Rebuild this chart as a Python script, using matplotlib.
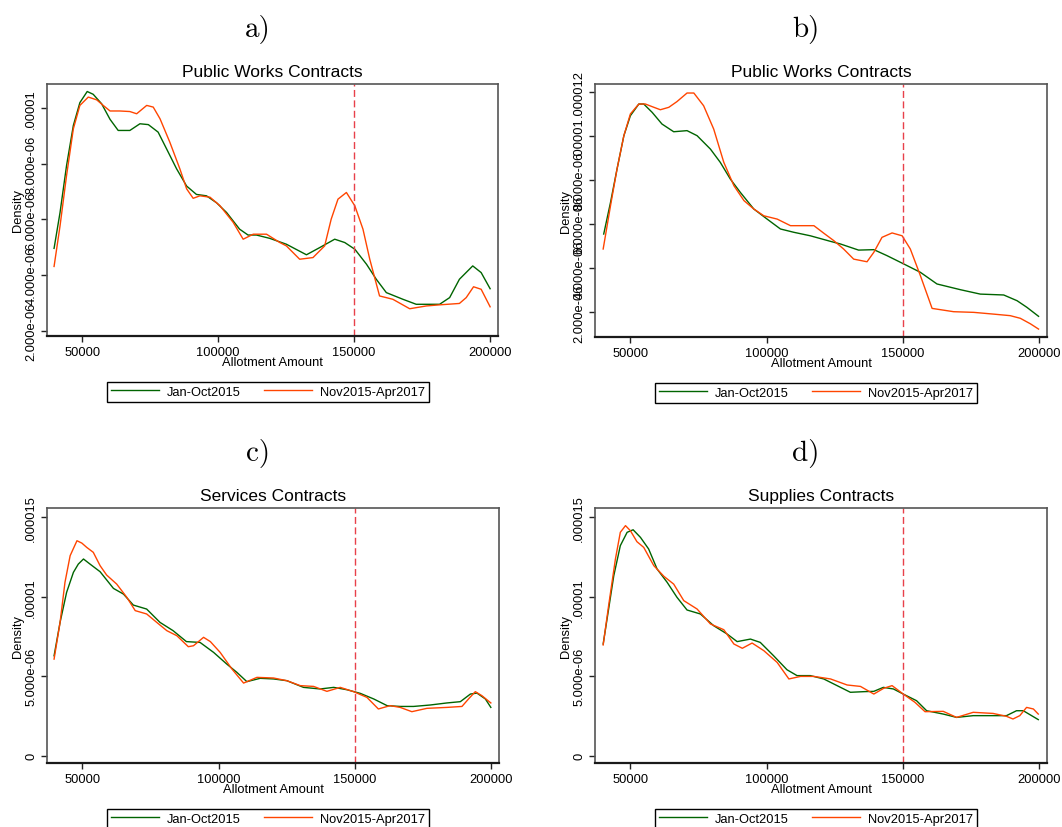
import numpy as np
import matplotlib
matplotlib.use('Agg')
import matplotlib.pyplot as plt

# density values are in units of 1e-6
# a) Public Works Contracts (first)
a_green_x = [39600, 41800, 44200, 46700, 49100, 51800, 54000, 57100, 60200, 63200, 67500, 71200,
             74300, 77900, 81000, 84700, 88400, 92000, 95700, 99400, 103100, 107900, 111000, 114100,
             119000, 125100, 132500, 137400, 142900, 146600, 150300, 154600, 158200, 161900, 168000,
             172900, 181500, 185200, 188800, 193700, 196800, 200100]
a_green_y = [4.96, 6.25, 7.94, 9.38, 10.2, 10.6, 10.5, 10.16, 9.6, 9.2, 9.2, 9.44,
             9.41, 9.14, 8.54, 7.82, 7.2, 6.9, 6.85, 6.6, 6.25, 5.65, 5.44, 5.44,
             5.32, 5.11, 4.73, 4.99, 5.29, 5.17, 4.93, 4.39, 3.85, 3.37, 3.13,
             2.95, 2.95, 3.19, 3.85, 4.33, 4.09, 3.51]
a_orange_x = [39600, 41800, 44200, 46700, 49100, 52200, 55300, 57700, 60200, 63800, 67500, 70000,
              73700, 76100, 78600, 82200, 85900, 88400, 90800, 93300, 97000, 100600, 105500, 109200,
              112900, 117800, 122700, 125100, 130000, 134900, 139200, 141600, 144100, 147200, 150300,
              153300, 155800, 159400, 164300, 170500, 176600, 181500, 188800, 191300, 194000, 196800,
              200100]
a_orange_y = [4.31, 5.77, 7.58, 9.26, 10.1, 10.4, 10.3, 10.1, 9.9, 9.9, 9.88, 9.8,
              10.1, 10.04, 9.62, 8.78, 7.82, 7.1, 6.76, 6.85, 6.8, 6.5, 5.9, 5.29,
              5.47, 5.47, 5.17, 5.05, 4.57, 4.63, 5.05, 6.01, 6.73, 6.97, 6.49,
              5.65, 4.57, 3.25, 3.13, 2.79, 2.89, 2.93, 2.98, 3.19, 3.58, 3.49,
              2.86]

# b) Public Works Contracts (second)
b_green_x = [40200, 42700, 45100, 47600, 50000, 53100, 54900, 58000, 61600, 65900, 70800, 74500,
             79400, 83000, 86700, 90400, 95300, 100200, 105100, 110000, 116100, 123400, 127100,
             133800, 139400, 144200, 150400, 156500, 162600, 171200, 178500, 187100, 192000,
             195600, 199900]
b_green_y = [5.56, 7.0, 8.52, 10.03, 10.94, 11.47, 11.47, 11.09, 10.56, 10.21, 10.26, 10.03,
             9.42, 8.82, 8.06, 7.45, 6.7, 6.24, 5.79, 5.64, 5.48, 5.23, 5.11,
             4.83, 4.85, 4.58, 4.2, 3.82, 3.29, 3.03, 2.83, 2.79, 2.53,
             2.23, 1.82]
b_orange_x = [40000, 42700, 45100, 47600, 50000, 53100, 55500, 58000, 61000, 64100, 67100, 70800,
              73300, 76900, 80600, 84300, 88000, 91700, 95300, 99000, 103900, 108800, 113700,
              117400, 121000, 124700, 128300, 132000, 136900, 139400, 142400, 146100, 149800,
              152800, 156500, 160800, 168700, 176100, 183400, 189500, 193200, 196900, 199900]
b_orange_y = [4.88, 6.85, 8.52, 10.03, 11.02, 11.47, 11.47, 11.35, 11.21, 11.32, 11.58, 11.97,
              11.97, 11.39, 10.33, 8.82, 7.76, 7.08, 6.7, 6.39, 6.24, 5.94, 5.94,
              5.94, 5.6, 5.26, 4.88, 4.42, 4.3, 4.73, 5.41, 5.61, 5.48,
              4.88, 3.67, 2.18, 2.03, 2.0, 1.92, 1.85, 1.73, 1.48, 1.24]

# c) Services Contracts
c_green_x = [39600, 41800, 44200, 46700, 48500, 50400, 52800, 56500, 61400, 65100, 68700, 73600,
             78500, 83300, 88200, 93200, 98200, 103000, 106700, 110400, 115300, 120200, 125100,
             131200, 137300, 142300, 147200, 152100, 157000, 161900, 166700, 171600, 177700,
             183900, 188800, 192500, 194900, 198000, 200000]
c_green_y = [6.29, 8.39, 10.28, 11.54, 12.06, 12.38, 12.06, 11.58, 10.53, 10.17, 9.48, 9.23,
             8.39, 7.87, 7.18, 7.13, 6.5, 5.77, 5.25, 4.66, 4.87, 4.83, 4.72,
             4.3, 4.2, 4.3, 4.15, 3.92, 3.57, 3.15, 3.1, 3.1, 3.19,
             3.32, 3.4, 3.88, 3.94, 3.57, 3.04]
c_orange_x = [39600, 41800, 43600, 45500, 48000, 49800, 51600, 54000, 56500, 58900, 62600, 66300,
              69400, 73600, 77300, 81000, 84700, 88900, 90800, 94500, 97000, 100600, 104900,
              109200, 114100, 120200, 125100, 130000, 134900, 139800, 144700, 149600, 154500,
              158700, 163000, 166700, 171000, 176500, 183900, 189400, 191800, 194300, 196700,
              200000]
c_orange_y = [6.08, 8.39, 10.91, 12.59, 13.53, 13.38, 13.11, 12.8, 11.96, 11.37, 10.8, 9.97,
              9.13, 8.92, 8.39, 7.87, 7.55, 6.86, 6.92, 7.45, 7.18, 6.5, 5.46,
              4.57, 4.93, 4.89, 4.72, 4.41, 4.36, 4.05, 4.3, 4.03, 3.67,
              2.94, 3.15, 3.04, 2.77, 2.98, 3.04, 3.1, 3.57, 4.03, 3.78,
              3.32]

# d) Supplies Contracts
d_green_x = [40000, 42000, 43900, 46300, 48800, 51000, 53700, 56700, 59800, 63500, 67100, 70800,
             75700, 80600, 85500, 89200, 94100, 97700, 102600, 107500, 111200, 116100, 121000,
             125900, 130800, 135700, 139400, 142900, 146600, 150200, 155100, 158800, 164900,
             169800, 175900, 182000, 188100, 191800, 194300, 199800]
d_green_y = [7.03, 9.23, 11.33, 13.22, 14.06, 14.22, 13.74, 13.01, 11.75, 10.91, 9.97, 9.17,
             8.92, 8.18, 7.66, 7.18, 7.34, 7.13, 6.29, 5.41, 5.04, 5.04, 4.83,
             4.41, 3.99, 4.03, 4.05, 4.3, 4.2, 3.88, 3.46, 2.83, 2.62,
             2.41, 2.52, 2.52, 2.52, 2.83, 2.83, 2.27]
d_orange_x = [40000, 42000, 44500, 46300, 48200, 50000, 52400, 54900, 58600, 62300, 65900, 69600,
              74500, 79400, 84300, 88000, 91100, 94700, 99000, 103900, 108200, 112500, 117400,
              123500, 129600, 134500, 139400, 143000, 146100, 150200, 154500, 158200, 164900,
              169800, 175900, 183200, 188100, 190500, 193000, 195500, 198000, 199800]
d_orange_y = [6.97, 9.44, 12.38, 14.06, 14.48, 14.16, 13.47, 13.11, 11.96, 11.29, 10.8, 9.76,
              9.23, 8.29, 7.93, 7.03, 6.76, 7.09, 6.61, 5.87, 4.83, 4.99, 4.99,
              4.83, 4.45, 4.36, 3.88, 4.24, 4.41, 3.88, 3.36, 2.77, 2.79,
              2.41, 2.73, 2.66, 2.48, 2.31, 2.52, 3.04, 2.94, 2.62]

cutoff = 150000
xticks = [50000, 100000, 150000, 200000]
series_names = ['Jan-Oct2015', 'Nov2015-Apr2017']

panels = [
    dict(tag='a)', title='Public Works Contracts', gx=a_green_x, gy=a_green_y,
         ox=a_orange_x, oy=a_orange_y, ylim=(1.81, 10.87),
         yt=[2, 4, 6, 8, 10], ytl=['2.000e-06', '4.000e-06', '6.000e-06', '8.000e-06', '.00001'],
         pos=[47, 85, 498, 337]),
    dict(tag='b)', title='Public Works Contracts', gx=b_green_x, gy=b_green_y,
         ox=b_orange_x, oy=b_orange_y, ylim=(0.88, 12.38),
         yt=[2, 4, 6, 8, 10, 12],
         ytl=['2.000e-06', '4.000e-06', '6.000e-06', '8.000e-06', '.00001', '.000012'],
         pos=[595, 85, 1047, 338]),
    dict(tag='c)', title='Services Contracts', gx=c_green_x, gy=c_green_y,
         ox=c_orange_x, oy=c_orange_y, ylim=(-0.46, 15.59),
         yt=[0, 5, 10, 15], ytl=['0', '5.000e-06', '.00001', '.000015'],
         pos=[47, 509, 499, 764]),
    dict(tag='d)', title='Supplies Contracts', gx=d_green_x, gy=d_green_y,
         ox=d_orange_x, oy=d_orange_y, ylim=(-0.46, 15.59),
         yt=[0, 5, 10, 15], ytl=['0', '5.000e-06', '.00001', '.000015'],
         pos=[595, 509, 1047, 764]),
]

W, H = 1062, 828
fs = 9.3
plt.rcParams['font.family'] = ['Liberation Sans', 'DejaVu Sans']

fig = plt.figure(figsize=(W / 100, H / 100), dpi=100)

for p in panels:
    l, t, r, b = p['pos']
    ax = fig.add_axes([l / W, 1 - b / H, (r - l) / W, (b - t) / H])
    ax.plot(p['gx'], np.array(p['gy']) * 1e-6, color='#006400', lw=1.0, label=series_names[0])
    ax.plot(p['ox'], np.array(p['oy']) * 1e-6, color='#ff4500', lw=1.0, label=series_names[1])
    ax.axvline(cutoff, color='#e8404a', lw=1.0, ls=(0, (5, 2.5)))
    ax.set_xlim(37000, 203000)
    ax.set_ylim(p['ylim'][0] * 1e-6, p['ylim'][1] * 1e-6)
    ax.set_xticks(xticks)
    ax.set_xticklabels([str(v) for v in xticks], fontsize=fs)
    ax.set_yticks([v * 1e-6 for v in p['yt']])
    ax.set_yticklabels(p['ytl'], fontsize=fs, rotation=90, va='center')
    ax.tick_params(direction='out', length=4, width=1, color='#222222', pad=3)
    for s in ax.spines.values():
        s.set_color('#555555')
        s.set_linewidth(1.2)
    ax.spines['bottom'].set_color('#1a1a1a')
    ax.spines['bottom'].set_linewidth(1.6)
    ax.set_xlabel('Allotment Amount', fontsize=fs, labelpad=-1)
    ax.set_ylabel('Density', fontsize=fs, labelpad=1)
    ax.set_title(p['title'], fontsize=12.5, pad=6)
    cx = (l + r) / 2 / W
    fig.text(cx - 15 / W, 1 - (t - 55) / H, p['tag'], fontfamily='cmr10', fontsize=21,
             ha='center', va='center')
    fig.legend(*ax.get_legend_handles_labels(), loc='upper left',
               bbox_to_anchor=((l + 60) / W, 1 - (b + 46) / H), ncol=2, fontsize=fs,
               frameon=True, fancybox=False, edgecolor='black', framealpha=1,
               handlelength=3.7, handletextpad=0.6, columnspacing=1.85,
               borderpad=0.3, borderaxespad=0)

fig.savefig('out.png', dpi=100)
